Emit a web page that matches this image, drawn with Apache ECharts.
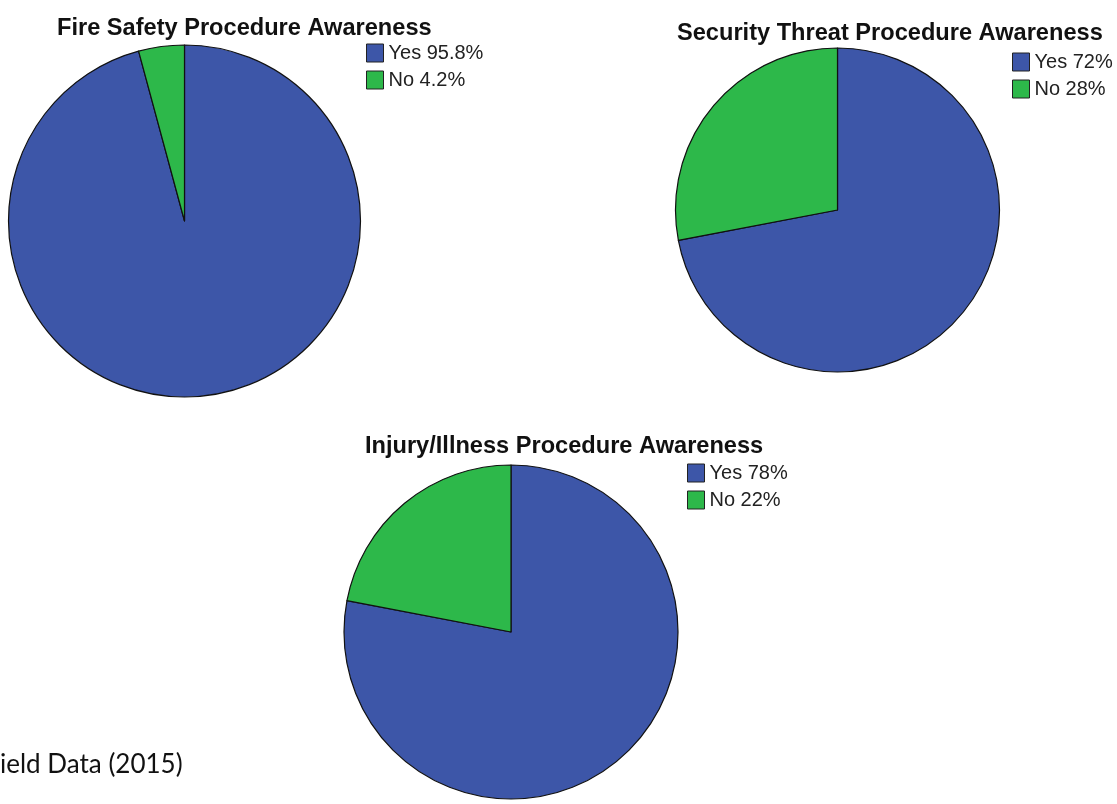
<!DOCTYPE html>
<html>
<head>
<meta charset="utf-8">
<script src="https://cdn.jsdelivr.net/npm/echarts@6/dist/echarts.min.js"></script>
<style>
  html, body { margin: 0; padding: 0; background: #ffffff; }
  #chart { width: 1117px; height: 804px; }
</style>
</head>
<body>
<div id="chart"></div>
<script>
// Survey answers (percent of respondents)
const categories = ['Yes', 'No'];
const fireSafety = [95.8, 4.2];
const securityThreat = [72, 28];
const injuryIllness = [78, 22];

const titles = [
  'Fire Safety Procedure Awareness',
  'Security Threat Procedure Awareness',
  'Injury/Illness Procedure Awareness'
];
const sourceNote = 'ield Data (2015)';

const sliceColors = ['#3d56a8', '#2db84a'];
const titleFont = { fontFamily: 'Liberation Sans, Arial, sans-serif', fontWeight: 'bold', fontSize: 23.6, color: '#111111' };
const legendFont = { fontFamily: 'Liberation Sans, Arial, sans-serif', fontSize: 20, color: '#222222' };

function pieData(values) {
  return values.map((v, i) => ({
    name: categories[i] + ' ' + v + '%',
    value: v,
    itemStyle: { color: sliceColors[i] }
  }));
}

const panels = [
  { values: fireSafety,     center: [184.5, 221], radius: 176, title: [57, 16],   legend: [366, 43] },
  { values: securityThreat, center: [837.5, 210], radius: 162, title: [677, 21],  legend: [1012, 52] },
  { values: injuryIllness,  center: [511, 632],   radius: 167, title: [365, 434], legend: [687, 463] }
];

const chart = echarts.init(document.getElementById('chart'), null, { renderer: 'canvas' });

const option = {
  backgroundColor: '#ffffff',
  animation: false,
  title: panels.map((p, i) => ({
    text: titles[i],
    left: p.title[0],
    top: p.title[1],
    padding: 0,
    textStyle: titleFont
  })).concat([{
    text: sourceNote,
    left: 0,
    top: 752,
    padding: 0,
    textStyle: { fontFamily: 'Lato, Carlito, sans-serif', fontWeight: 'normal', fontSize: 26, color: '#111111' }
  }]),
  legend: panels.map((p) => ({
    orient: 'vertical',
    left: p.legend[0],
    top: p.legend[1],
    padding: 0,
    icon: 'rect',
    itemWidth: 17,
    itemHeight: 18,
    itemGap: 7,
    selectedMode: false,
    itemStyle: { borderColor: '#222222', borderWidth: 1 },
    textStyle: legendFont,
    data: p.values.map((v, i) => categories[i] + ' ' + v + '%')
  })),
  series: panels.map((p) => ({
    type: 'pie',
    center: p.center,
    radius: p.radius,
    startAngle: 90,
    clockwise: true,
    silent: true,
    label: { show: false },
    labelLine: { show: false },
    itemStyle: { borderColor: '#111111', borderWidth: 1.2 },
    data: pieData(p.values)
  }))
};

chart.setOption(option);
</script>
</body>
</html>
